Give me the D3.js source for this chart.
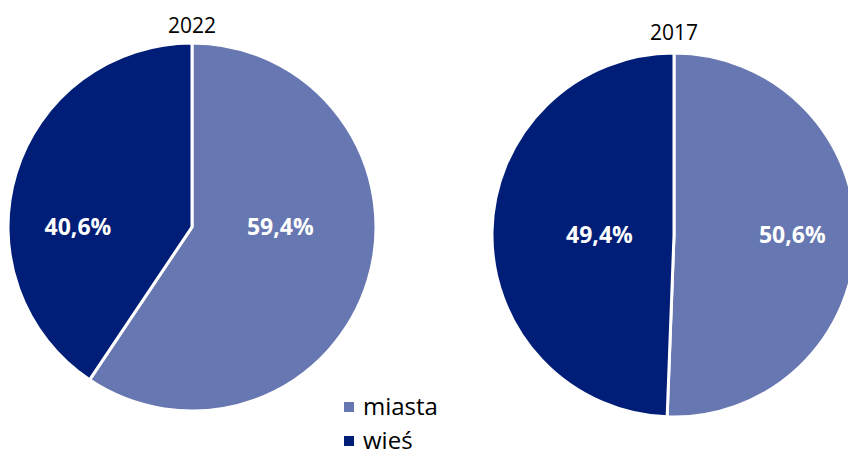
<!DOCTYPE html>
<html>
<head>
<meta charset="utf-8">
<script src="https://cdn.jsdelivr.net/npm/d3@7"></script>
<style>
  body { margin: 0; background: #fff; }
  svg { display: block; font-family: "Open Sans", sans-serif; }
</style>
</head>
<body>
<div id="chart"></div>
<script>
// data
let years = ["2022", "2017"];
let categories = ["miasta", "wieś"];
let values2022 = [59.4, 40.6];
let values2017 = [50.6, 49.4];
let colors = ["#6777b1", "#001d77"];

let width = 848;
let height = 456;

let svg = d3.select("#chart")
    .append("svg")
    .attr("width", width)
    .attr("height", height);

let color = d3.scaleOrdinal()
    .domain(categories)
    .range(colors);

// layout of the two pies (labelX = label offset as fraction of radius, per slice)
let pies = [
    { year: years[0], values: values2022, cx: 192, cy: 227, r: 184, titleY: 33, labelX: [0.48, -0.62] },
    { year: years[1], values: values2017, cx: 674, cy: 235, r: 182, titleY: 40, labelX: [0.65, -0.41] }
];

let pie = d3.pie()
    .sort(null)
    .value(d => d.value);

pies.forEach(p => {
    let data = categories.map((c, i) => ({ cat: c, value: p.values[i], lx: p.labelX[i] }));
    let arcs = pie(data);

    let arc = d3.arc()
        .innerRadius(0)
        .outerRadius(p.r);

    let g = svg.append("g")
        .attr("transform", "translate(" + p.cx + "," + p.cy + ")");

    g.selectAll("path")
        .data(arcs)
        .enter()
        .append("path")
        .attr("d", arc)
        .attr("fill", d => color(d.data.cat))
        .attr("stroke", "white")
        .style("stroke-width", "3px");

    g.selectAll("text.lbl")
        .data(arcs)
        .enter()
        .append("text")
        .attr("class", "lbl")
        .attr("x", d => d.data.lx * p.r)
        .attr("y", 0)
        .attr("dy", "0.35em")
        .style("text-anchor", "middle")
        .style("font-size", "23px")
        .style("font-weight", 700)
        .attr("fill", "white")
        .text(d => d3.format(".1f")(d.data.value).replace(".", ",") + "%");

    svg.append("text")
        .attr("x", p.cx)
        .attr("y", p.titleY)
        .style("text-anchor", "middle")
        .style("font-size", "21px")
        .attr("fill", "#000")
        .text(p.year);
});

// legend
let legend = svg.append("g")
    .attr("transform", "translate(344,407)");

let items = legend.selectAll("g")
    .data(categories)
    .enter()
    .append("g")
    .attr("transform", (d, i) => "translate(0," + i * 34 + ")");

items.append("rect")
    .attr("x", 0)
    .attr("y", -5)
    .attr("width", 10)
    .attr("height", 10)
    .attr("fill", d => color(d));

items.append("text")
    .attr("x", 19)
    .attr("y", 8)
    .style("font-size", "24px")
    .attr("fill", "#000")
    .text(d => d);
</script>
</body>
</html>
